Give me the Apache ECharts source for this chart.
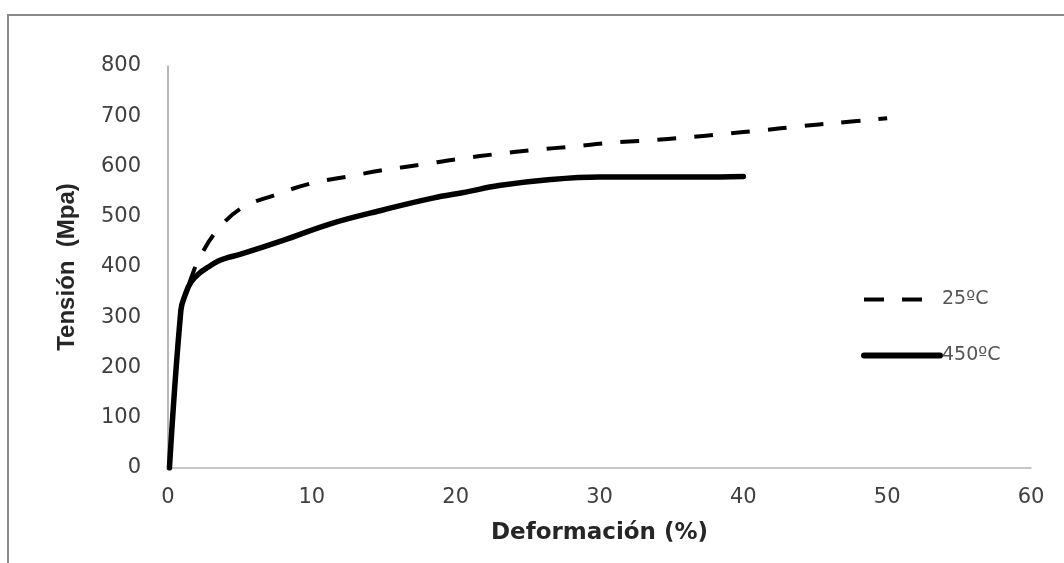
<!DOCTYPE html>
<html>
<head>
<meta charset="utf-8">
<script src="https://cdn.jsdelivr.net/npm/echarts@6/dist/echarts.min.js"></script>
<style>
html,body{margin:0;padding:0;background:#fff;}
#chart{width:1064px;height:563px;}
</style>
</head>
<body>
<div id="chart"></div>
<script>
// Data
const seriesNames = ['25ºC', '450ºC'];
const strain25 = [0.1, 0.9, 1.3, 1.7, 2.1, 3.3, 5.1, 7.4, 9.9, 12.5, 15.0, 17.7, 20.2, 22.9, 25.5, 28.2, 30.7, 33.4, 36.1, 38.7, 41.3, 43.9, 46.6, 50.0];
const stress25 = [0, 315, 352, 385, 413, 469, 517, 543, 566, 580, 593, 604, 615, 625, 633, 640, 647, 652, 658, 665, 672, 680, 687, 696];
const strain450 = [0.1, 0.9, 1.2, 1.6, 2.2, 2.8, 3.5, 4.2, 5.0, 8.0, 11.4, 15.0, 18.4, 20.7, 23.0, 26.6, 30.0, 33.5, 37.0, 40.0];
const stress450 = [0, 315, 345, 370, 388, 400, 412, 419, 425, 453, 487, 514, 537, 549, 562, 574, 579, 579, 579, 580];
const xTicks = { min: 0, max: 60, interval: 10 };
const yTicks = { min: 0, max: 800, interval: 100 };

const pairs = (xs, ys) => xs.map((x, i) => [x, ys[i]]);

const chart = echarts.init(document.getElementById('chart'), null, { renderer: 'canvas' });
chart.setOption({
  animation: false,
  backgroundColor: '#ffffff',
  graphic: [{
    type: 'rect',
    shape: { x: 8, y: 15, width: 1100, height: 600 },
    style: { fill: 'none', stroke: '#8a8a8a', lineWidth: 2 },
    silent: true, z: -10
  }],
  grid: { left: 168, right: 33, top: 66, bottom: 95, containLabel: false },
  legend: {
    orient: 'vertical',
    left: 856, top: 285,
    itemWidth: 76, itemHeight: 14, itemGap: 44 - 7,
    itemStyle: { opacity: 0 },
    textStyle: { fontFamily: 'DejaVu Sans', fontSize: 19, color: '#555555', padding: [0, 0, 0, -3] },
    data: [
      { name: seriesNames[0], lineStyle: { type: [20, 18], width: 4 } },
      { name: seriesNames[1], lineStyle: { width: 6 } }
    ]
  },
  xAxis: {
    type: 'value',
    min: xTicks.min, max: xTicks.max, interval: xTicks.interval,
    name: 'Deformación (%)',
    nameLocation: 'middle', nameGap: 54,
    nameTextStyle: { fontFamily: 'DejaVu Sans', fontSize: 23, fontWeight: 'bold', color: '#262626' },
    axisLine: { show: true, lineStyle: { color: '#b5b5b5', width: 1.5 } },
    axisTick: { show: false },
    splitLine: { show: false },
    axisLabel: { fontFamily: 'DejaVu Sans', fontSize: 21, color: '#404040', margin: 19 }
  },
  yAxis: {
    type: 'value',
    min: yTicks.min, max: yTicks.max, interval: yTicks.interval,
    name: 'Tensión  (Mpa)',
    nameLocation: 'middle', nameGap: 89,
    nameTextStyle: { fontFamily: 'Liberation Sans', fontSize: 24, fontWeight: 'bold', color: '#262626' },
    axisLine: { show: true, lineStyle: { color: '#a0a0a0', width: 1.5 } },
    axisTick: { show: false },
    splitLine: { show: false },
    axisLabel: { fontFamily: 'DejaVu Sans', fontSize: 21, color: '#404040', margin: 27 }
  },
  series: [
    {
      name: seriesNames[0],
      type: 'line',
      data: pairs(strain25, stress25),
      smooth: 0.4,
      symbol: 'none',
      lineStyle: { color: '#000000', width: 4, type: [19, 18] },
      itemStyle: { color: '#000000' },
      z: 2
    },
    {
      name: seriesNames[1],
      type: 'line',
      data: pairs(strain450, stress450),
      smooth: 0.4,
      symbol: 'none',
      lineStyle: { color: '#000000', width: 5.5, cap: 'round' },
      itemStyle: { color: '#000000' },
      z: 3
    }
  ]
});
</script>
</body>
</html>
